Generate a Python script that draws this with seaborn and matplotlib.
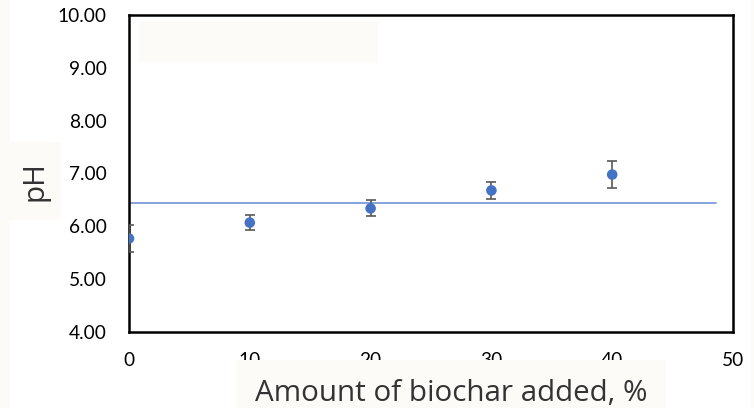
import matplotlib
matplotlib.use("Agg")
import matplotlib.pyplot as plt
from matplotlib.patches import Rectangle
import pandas as pd
import seaborn as sns

# Data
biochar_pct = [0, 10, 20, 30, 40]
ph_mean = [5.77, 6.07, 6.34, 6.68, 6.98]
ph_err = [0.25, 0.14, 0.15, 0.16, 0.25]
ref_line_x = [0, 48.6]
ref_line_y = [6.45, 6.45]

x_ticks = [0, 10, 20, 30, 40, 50]
y_ticks = [4, 5, 6, 7, 8, 9, 10]

sns.set_style("white")
plt.rcParams["font.family"] = ["Lato", "DejaVu Sans"]

point_color = "#4472C4"
box_color = "#FCFBF7"

df = pd.DataFrame({"Amount": biochar_pct, "pH": ph_mean})
line_df = pd.DataFrame({"Amount": ref_line_x, "pH": ref_line_y})

fig = plt.figure(figsize=(7.54, 4.08), dpi=100)
ax = fig.add_axes([129 / 754, 1 - 332 / 408, (733 - 129) / 754, (332 - 15) / 408])

# Reference line
sns.lineplot(data=line_df, x="Amount", y="pH", ax=ax, color="#6F93D6",
             linewidth=1.2, zorder=2)

# Error bars then points
ax.errorbar(biochar_pct, ph_mean, yerr=ph_err, fmt="none", ecolor="#595959",
            elinewidth=1.2, capsize=3.5, capthick=1.2, zorder=3)
sns.scatterplot(data=df, x="Amount", y="pH", ax=ax, color=point_color,
                s=58, edgecolor="none", zorder=4)

ax.set_xlim(0, 50)
ax.set_ylim(4, 10)
ax.set_xticks(x_ticks)
ax.set_yticks(y_ticks)
ax.set_yticklabels([f"{v:.2f}" for v in y_ticks])

for side in ["left", "bottom", "top", "right"]:
    ax.spines[side].set_visible(True)
    ax.spines[side].set_color("black")
    ax.spines[side].set_linewidth(1.8)

ax.tick_params(axis="both", direction="in", length=5, width=1.5,
               labelsize=13.8, colors="black")
ax.tick_params(axis="y", pad=16)
ax.tick_params(axis="x", pad=14.5)
ax.tick_params(axis="x", which="both", top=False)
ax.tick_params(axis="y", which="both", right=False)

# x label sits in a light box that hides the lower half of the tick labels
ax.set_xlabel("Amount of biochar added, %", fontsize=21.3, color="#333333",
              family=["Open Sans", "DejaVu Sans"], va="baseline",
              bbox=dict(facecolor=box_color, edgecolor="none", pad=13.5))
ax.xaxis.set_label_coords(0.533, -0.2177)
ax.set_ylabel("pH", fontsize=21.3, color="#333333",
              family=["Open Sans", "DejaVu Sans"], va="center")
ax.yaxis.set_label_coords(-0.1556, 0.476)

# Light overlay boxes around the figure
fig.add_artist(Rectangle((0, 0), 10 / 754, 1, transform=fig.transFigure,
                         facecolor=box_color, edgecolor="none", zorder=-1))
fig.add_artist(Rectangle((10 / 754, 1 - 220 / 408), 51 / 754, 78 / 408,
                         transform=fig.transFigure,
                         facecolor=box_color, edgecolor="none", zorder=-1))
fig.add_artist(Rectangle((751 / 754, 0), 3 / 754, 1, transform=fig.transFigure,
                         facecolor=box_color, edgecolor="none", zorder=-1))
fig.add_artist(Rectangle((139 / 754, 1 - 63 / 408), (378 - 139) / 754,
                         (63 - 22) / 408, transform=fig.transFigure,
                         facecolor=box_color, edgecolor="none", zorder=5))

fig.savefig("out.png", dpi=100)
